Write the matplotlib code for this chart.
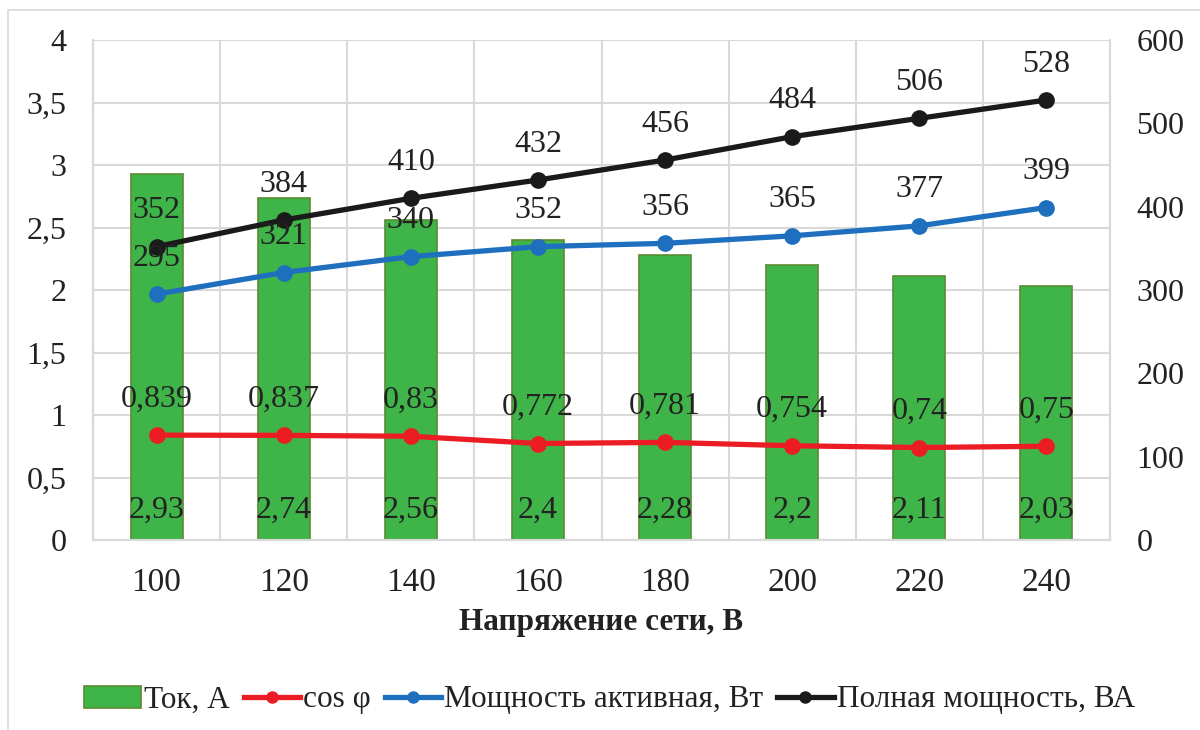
"""Current / power factor / power vs. mains voltage chart."""

import matplotlib

matplotlib.use("Agg")
import matplotlib.pyplot as plt
from matplotlib.lines import Line2D
from matplotlib.patches import Patch, Rectangle

voltage = [100, 120, 140, 160, 180, 200, 220, 240]
current_a = [2.93, 2.74, 2.56, 2.4, 2.28, 2.2, 2.11, 2.03]
cos_phi = [0.839, 0.837, 0.83, 0.772, 0.781, 0.754, 0.74, 0.75]
active_power = [295, 321, 340, 352, 356, 365, 377, 399]
full_power = [352, 384, 410, 432, 456, 484, 506, 528]

left_ticks = [0, 0.5, 1, 1.5, 2, 2.5, 3, 3.5, 4]
right_ticks = [0, 100, 200, 300, 400, 500, 600]

GREEN = "#3fb549"
GREEN_EDGE = "#5a8a32"
RED = "#ec1c24"
BLUE = "#1f6fbf"
BLACK = "#1a1a1a"
GRID = "#d9d9d9"
TEXT = "#222222"


def fmt(v):
    return f"{v:g}".replace(".", ",")


plt.rcParams["font.family"] = ["Liberation Serif", "DejaVu Serif"]

fig = plt.figure(figsize=(12, 7.3), dpi=100)
fig.patches.append(
    Rectangle((8 / 1200, -0.1), 1.2, 1 - 10 / 730 + 0.1, transform=fig.transFigure,
              fill=False, edgecolor="#d9d9d9", linewidth=1.2)
)
ax = fig.add_axes([93 / 1200, 1 - 540 / 730, (1110 - 93) / 1200, 500 / 730])
ax2 = ax.twinx()

x = list(range(len(voltage)))
ax.bar(x, current_a, width=0.41, color=GREEN, edgecolor=GREEN_EDGE, linewidth=1.2, zorder=2)
for xi, v in zip(x, current_a):
    ax.text(xi, 0.24, fmt(v), ha="center", va="center", fontsize=23, color=TEXT, zorder=5)

ax.plot(x, cos_phi, color=RED, linewidth=3.8, marker="o", markersize=11, zorder=3)
for xi, v in zip(x, cos_phi):
    ax.annotate(fmt(v), (xi, v), xytext=(0, 36), textcoords="offset pixels",
                ha="center", va="center", fontsize=23, color=TEXT)

ax.set_xlim(-0.5, len(voltage) - 0.5)
ax.set_ylim(0, 4)
ax.set_yticks(left_ticks)
ax.set_yticklabels([fmt(t) for t in left_ticks])
ax.set_xticks(x)
ax.set_xticklabels([str(v) for v in voltage])
ax.set_xticks([i - 0.5 for i in range(len(voltage) + 1)], minor=True)
ax.grid(True, which="major", axis="y", color=GRID, linewidth=1.5, zorder=0)
ax.grid(True, which="minor", axis="x", color=GRID, linewidth=1.5, zorder=0)
ax.set_axisbelow(True)
ax.tick_params(axis="both", which="both", length=0, labelsize=23, colors=TEXT)
ax.tick_params(axis="x", labelsize=24, pad=20)
ax.tick_params(axis="y", pad=19)
ax.set_xlabel("Напряжение сети, В", fontsize=22.5, fontweight="bold", color=TEXT, labelpad=7)

ax2.plot(x, active_power, color=BLUE, linewidth=3.8, marker="o", markersize=11, zorder=3)
ax2.plot(x, full_power, color=BLACK, linewidth=3.8, marker="o", markersize=11, zorder=3)
for series in (active_power, full_power):
    for xi, v in zip(x, series):
        ax2.annotate(str(v), (xi, v), xytext=(0, 36), textcoords="offset pixels",
                     ha="center", va="center", fontsize=23, color=TEXT)
ax2.set_ylim(0, 600)
ax2.set_yticks(right_ticks)
ax2.tick_params(axis="y", length=0, labelsize=23, colors=TEXT, pad=19)

for a in (ax, ax2):
    for side, spine in a.spines.items():
        spine.set_color(GRID)
        spine.set_linewidth(1.5)
        spine.set_visible(side in ("left", "right", "bottom"))

handles = [
    Patch(facecolor=GREEN, edgecolor=GREEN_EDGE, linewidth=1.2),
    Line2D([], [], color=RED, linewidth=3.8, marker="o", markersize=8),
    Line2D([], [], color=BLUE, linewidth=3.8, marker="o", markersize=8),
    Line2D([], [], color=BLACK, linewidth=3.8, marker="o", markersize=8),
]
labels = ["Ток, А", "cos φ", "Мощность активная, Вт", "Полная мощность, ВА"]
fig.legend(handles, labels, loc="center", bbox_to_anchor=(0.508, 1 - 700 / 730), ncol=4,
           frameon=False, fontsize=22.5, handlelength=1.8, handletextpad=0.1,
           columnspacing=0.45, labelcolor=TEXT)

fig.savefig("out.png", dpi=100)
